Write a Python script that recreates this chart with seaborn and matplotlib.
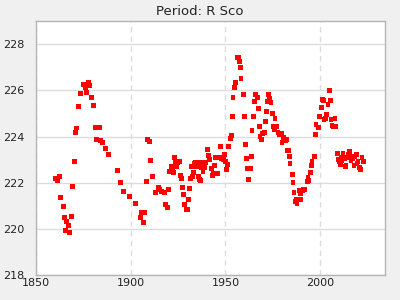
import numpy as np
import pandas as pd
import matplotlib
matplotlib.use("Agg")
import matplotlib.pyplot as plt
from matplotlib.ticker import MultipleLocator
import seaborn as sns

years = [1860.2, 1861.4, 1862.5, 1863.0, 1864.6, 1865.1, 1865.6, 1866.3, 1867.2, 1867.7,
         1868.8, 1869.3, 1870.4, 1870.9, 1871.4, 1872.5, 1873.5, 1875.1, 1876.1, 1876.7,
         1877.2, 1877.7, 1878.2, 1879.3, 1880.4, 1881.4, 1883.5, 1881.9, 1884.0, 1885.1,
         1886.7, 1888.2, 1893.0, 1894.6, 1896.1, 1899.3, 1902.5, 1905.1, 1905.6, 1907.2,
         1906.7, 1908.2, 1908.8, 1909.8, 1910.4, 1911.4, 1913.0, 1914.6, 1915.1, 1916.1,
         1917.7, 1918.2, 1919.3, 1919.8, 1920.4, 1921.4, 1921.9, 1922.5, 1923.0, 1923.5,
         1924.0, 1924.6, 1925.6, 1926.1, 1926.7, 1927.2, 1927.7, 1928.2, 1929.3, 1929.8,
         1930.4, 1930.9, 1931.4, 1931.9, 1932.5, 1933.0, 1933.5, 1934.0, 1934.6, 1935.1,
         1935.6, 1936.1, 1936.7, 1937.2, 1937.7, 1938.2, 1938.8, 1939.3, 1940.4, 1940.9,
         1941.4, 1942.5, 1943.0, 1943.5, 1944.0, 1944.6, 1945.6, 1946.1, 1946.7, 1947.2,
         1947.7, 1948.8, 1949.3, 1949.8, 1950.4, 1950.9, 1951.4, 1952.5, 1953.0, 1953.5,
         1954.0, 1954.6, 1955.1, 1956.1, 1956.7, 1957.2, 1957.7, 1958.2, 1959.3, 1959.8,
         1960.4, 1960.9, 1961.4, 1962.0, 1963.0, 1963.5, 1964.0, 1964.6, 1965.1, 1965.6,
         1966.7, 1967.2, 1967.7, 1968.2, 1968.8, 1969.3, 1970.4, 1970.9, 1971.4, 1971.9,
         1972.5, 1973.0, 1974.0, 1974.6, 1975.1, 1975.6, 1976.1, 1976.7, 1977.7, 1978.2,
         1979.3, 1979.8, 1980.4, 1981.4, 1982.0, 1982.5, 1983.0, 1983.5, 1984.0, 1985.1,
         1985.6, 1986.1, 1986.7, 1987.2, 1987.7, 1988.2, 1988.8, 1989.3, 1989.8, 1990.4,
         1990.9, 1991.9, 1993.0, 1993.5, 1994.0, 1994.6, 1995.1, 1995.6, 1996.7, 1997.2,
         1997.7, 1998.8, 1999.3, 2000.4, 2000.9, 2001.4, 2001.9, 2002.5, 2003.0, 2004.0,
         2004.6, 2005.1, 2005.6, 2006.1, 2006.7, 2007.7, 2008.2, 2008.8, 2009.3, 2009.8,
         2010.4, 2010.9, 2011.4, 2011.9, 2012.5, 2013.0, 2013.5, 2014.0, 2014.6, 2015.1,
         2015.6, 2016.1, 2016.7, 2017.2, 2017.7, 2018.2, 2018.8, 2019.3, 2019.8, 2020.4,
         2020.9, 2021.9, 2022.5]

periods = [222.19, 222.08, 222.29, 221.37, 220.98, 220.51, 219.95, 220.33, 220.16, 219.86,
           220.55, 221.85, 222.93, 224.18, 224.37, 225.31, 225.87, 226.26, 226.13, 225.91,
           226.21, 226.36, 226.21, 225.69, 225.35, 224.40, 224.40, 223.88, 223.85, 223.75,
           223.49, 223.23, 222.54, 222.01, 221.63, 221.41, 221.11, 220.51, 220.72, 220.72,
           220.29, 222.06, 223.88, 223.79, 222.97, 222.28, 221.59, 221.79, 221.72, 221.63,
           221.59, 221.07, 220.94, 221.72, 222.50, 222.71, 222.54, 222.45, 223.10, 222.93,
           222.71, 222.88, 222.93, 222.32, 222.19, 221.80, 221.50, 221.07, 220.85, 220.85,
           221.29, 221.76, 222.19, 222.71, 222.28, 222.45, 222.84, 222.88, 222.71, 222.88,
           222.28, 222.15, 222.11, 222.67, 222.88, 222.50, 222.67, 222.88, 223.45, 223.19,
           223.01, 222.63, 222.32, 222.41, 222.76, 223.10, 222.41, 222.41, 223.10, 223.58,
           223.06, 223.01, 223.23, 222.93, 222.58, 222.80, 223.58, 223.92, 224.05, 224.87,
           225.69, 226.13, 226.34, 227.42, 227.42, 227.25, 226.99, 226.52, 225.82, 224.87,
           223.66, 223.06, 222.63, 222.15, 222.63, 223.14, 224.27, 224.87, 225.52, 225.82,
           225.69, 225.22, 224.44, 224.01, 223.88, 224.14, 224.18, 224.66, 225.09, 225.52,
           225.82, 225.65, 225.48, 225.00, 224.44, 224.31, 224.79, 224.44, 224.18, 224.09,
           224.14, 223.75, 223.97, 223.84, 223.88, 223.40, 223.40, 223.14, 222.84, 222.37,
           222.02, 221.59, 221.20, 221.29, 221.11, 221.29, 221.67, 221.54, 221.29, 221.67,
           221.72, 221.72, 222.06, 222.24, 222.11, 222.45, 222.76, 222.93, 223.14, 224.09,
           224.53, 224.40, 224.87, 225.26, 225.61, 225.56, 224.74, 224.79, 224.96, 225.39,
           226.00, 225.56, 224.74, 224.48, 224.44, 224.79, 224.44, 223.27, 223.01, 222.93,
           222.80, 223.10, 222.97, 223.27, 223.06, 222.71, 222.76, 223.10, 223.23, 223.36,
           223.19, 222.97, 223.06, 223.14, 222.76, 223.14, 223.23, 222.84, 222.93, 222.67,
           222.58, 223.10, 222.93]

title = "Period: R Sco"

df = pd.DataFrame({"year": years, "period": periods})

sns.set_style("white")
plt.rcParams['font.family'] = ['DejaVu Sans']

fig = plt.figure(figsize=(4, 3), dpi=100, facecolor="#f0f0f0")
ax = fig.add_axes([0.089, 0.082, 0.8735, 0.848])
ax.set_facecolor("white")

sns.scatterplot(data=df, x="year", y="period", marker="s", s=12, color="#ff0000",
                edgecolor="none", linewidth=0, ax=ax, zorder=3)

ax.set_xlim(1850, 2034)
ax.set_ylim(218, 229)
ax.xaxis.set_major_locator(MultipleLocator(50))
ax.xaxis.set_minor_locator(MultipleLocator(10))
ax.yaxis.set_major_locator(MultipleLocator(2))
ax.yaxis.set_minor_locator(MultipleLocator(1))

ax.grid(False)
ax.yaxis.grid(True, which="major", color="#dcdcdc", linewidth=1.0, linestyle="-")
ax.xaxis.grid(True, which="major", color="#dcdcdc", linewidth=1.0, linestyle=(0, (4, 3)))
ax.set_axisbelow(True)

ax.tick_params(axis="both", which="major", direction="in", length=4, width=0.8,
               color="#222222", labelsize=8, labelcolor="#222222")
ax.tick_params(axis="both", which="minor", direction="in", length=3, width=0.8,
               color="#222222")
ax.tick_params(axis="x", pad=2)
ax.tick_params(axis="y", pad=8)

for sp in ax.spines.values():
    sp.set_color("#b4b4b4")
    sp.set_linewidth(1.0)

ax.set_xlabel("")
ax.set_ylabel("")
fig.text(0.5, 0.963, title, ha="center", va="center", fontsize=9.5, color="#222222")

fig.savefig("out.png", dpi=100, facecolor=fig.get_facecolor())
